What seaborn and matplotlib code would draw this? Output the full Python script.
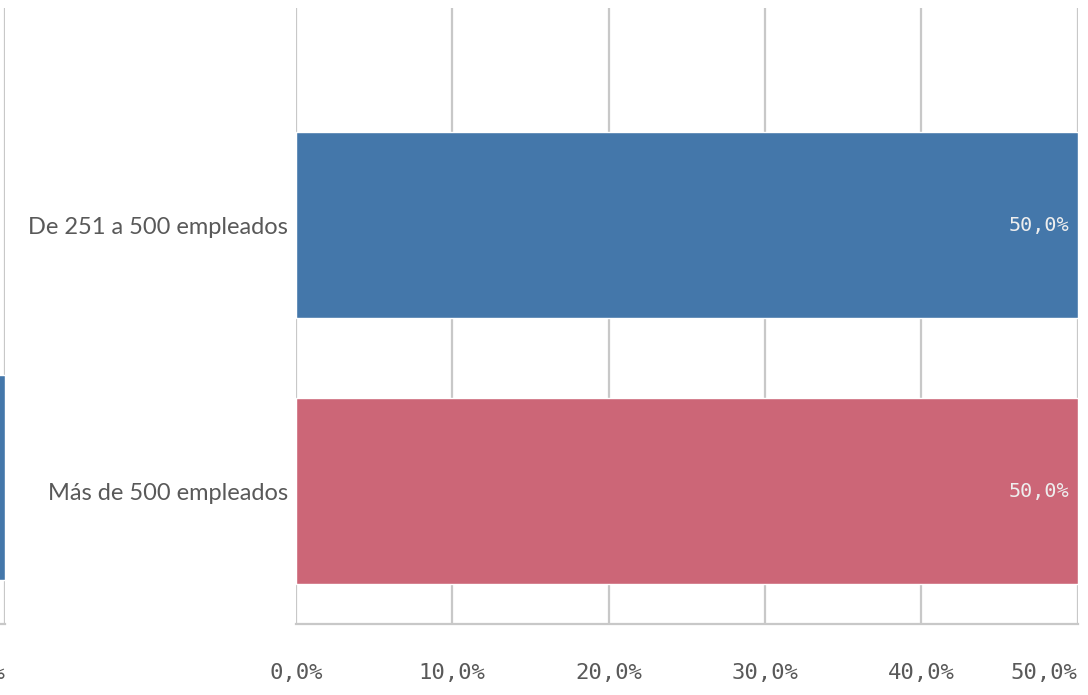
import numpy as np
import pandas as pd
import matplotlib.pyplot as plt
import seaborn as sns
from matplotlib.ticker import FuncFormatter

# Data
categories = ['De 251 a 500 empleados', 'Más de 500 empleados']
values = [50.0, 50.0]
bar_colors = ['#4477aa', '#cc6677']
x_ticks = [0, 10, 20, 30, 40, 50]

# neighbouring (cut off) chart on the left edge
left_categories = ['otro']
left_values = [50.0]
left_ticks = [50]

sns.set_theme(style='white')
plt.rcParams['font.family'] = ['Lato', 'DejaVu Sans']

grid_col = '#c8c8c8'
text_col = '#595959'
mono = 'DejaVu Sans Mono'

W, H = 1088, 695
fig = plt.figure(figsize=(W / 100, H / 100), dpi=100)


def rect(x0, y0, x1, y1):
    return [x0 / W, 1 - y1 / H, (x1 - x0) / W, (y1 - y0) / H]


def pct(v, pos=None):
    return f'{v:.1f}%'.replace('.', ',')


def style_axis(ax, ticks):
    ax.set_axisbelow(True)
    ax.xaxis.grid(True, color=grid_col, lw=1.6)
    ax.yaxis.grid(False)
    for s in ['top', 'right', 'left']:
        ax.spines[s].set_visible(False)
    ax.spines['bottom'].set_color(grid_col)
    ax.spines['bottom'].set_linewidth(1.6)
    ax.set_xticks(ticks)
    ax.xaxis.set_major_formatter(FuncFormatter(pct))
    ax.tick_params(axis='x', length=13, width=1.6, color=grid_col, pad=15,
                   labelsize=16, labelcolor=text_col)
    for lab in ax.get_xticklabels():
        lab.set_fontfamily(mono)
    ax.get_xticklabels()[-1].set_horizontalalignment('right')
    ax.set_xlabel('')
    ax.set_ylabel('')


# main chart
ax = fig.add_axes(rect(296, 8, 1077.5, 624))
df = pd.DataFrame({'cat': categories, 'val': values})
sns.barplot(data=df, x='val', y='cat', hue='cat', palette=bar_colors,
            orient='h', width=0.7, saturation=1, legend=False, ax=ax)
ax.set_xlim(0, 50)
ax.set_ylim(1.5, -0.816)
style_axis(ax, x_ticks)
ax.tick_params(axis='y', length=0, pad=6, labelsize=17, labelcolor=text_col)

for cont in ax.containers:
    texts = ax.bar_label(cont, labels=[pct(v) for v in cont.datavalues],
                         padding=-6, color='#eeeeee', fontsize=14.5,
                         fontfamily=mono)
    for t in texts:
        t.set_horizontalalignment('right')

# left neighbouring chart, mostly outside the picture
ax2 = fig.add_axes(rect(-300, 8, 5, 624))
df2 = pd.DataFrame({'cat': left_categories, 'val': left_values})
sns.barplot(data=df2, x='val', y='cat', color='#4477aa', orient='h',
            width=0.8, saturation=1, ax=ax2)
ax2.set_xlim(0, 50)
ax2.set_ylim(0.572, -1.832)
style_axis(ax2, left_ticks)
ax2.set_yticks([])

fig.savefig('out.png', dpi=100)
